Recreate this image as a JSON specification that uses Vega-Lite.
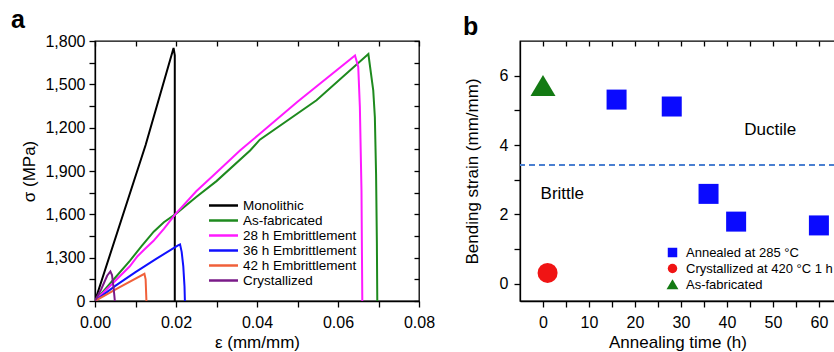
{
  "$schema": "https://vega.github.io/schema/vega-lite/v6.json",
  "background": "white",
  "padding": {"left": 10, "top": 7, "right": 0, "bottom": 0},
  "spacing": 26,
  "resolve": {"scale": {"color": "independent", "shape": "independent"}, "legend": {"color": "independent", "shape": "independent"}},
  "config": {
    "font": "Liberation Sans",
    "view": {"stroke": "#000", "strokeWidth": 1.3},
    "axis": {
      "grid": false, "domainColor": "#000", "domainWidth": 1.3, "tickColor": "#000", "tickWidth": 1.3,
      "labelFontSize": 16, "titleFontSize": 17, "titleFontWeight": "normal", "labelColor": "#000", "titleColor": "#000",
      "labelFont": "Liberation Sans", "titleFont": "Liberation Sans", "labelFlush": false, "labelOverlap": false
    },
    "legend": {"labelFont": "Liberation Sans", "labelFontSize": 13, "labelColor": "#000"},
    "title": {"font": "Liberation Sans", "color": "#000"}
  },
  "hconcat": [
    {
      "title": {"text": "a", "anchor": "start", "frame": "bounds", "fontSize": 25, "fontWeight": "bold", "offset": 7, "dx": -10, "dy": 7},
      "width": 324,
      "height": 260,
      "data": {"values": [
        {"series": "Monolithic", "i": 0, "strain": 0, "stress": 0},
        {"series": "Monolithic", "i": 1, "strain": 0.0125, "stress": 1080},
        {"series": "Monolithic", "i": 2, "strain": 0.0194, "stress": 1752},
        {"series": "Monolithic", "i": 3, "strain": 0.0197, "stress": 1700},
        {"series": "Monolithic", "i": 4, "strain": 0.0197, "stress": 0},
        {"series": "As-fabricated", "i": 0, "strain": 0, "stress": 0},
        {"series": "As-fabricated", "i": 1, "strain": 0.004, "stress": 130},
        {"series": "As-fabricated", "i": 2, "strain": 0.0086, "stress": 278},
        {"series": "As-fabricated", "i": 3, "strain": 0.0115, "stress": 380},
        {"series": "As-fabricated", "i": 4, "strain": 0.0145, "stress": 480},
        {"series": "As-fabricated", "i": 5, "strain": 0.017, "stress": 545},
        {"series": "As-fabricated", "i": 6, "strain": 0.0198, "stress": 600},
        {"series": "As-fabricated", "i": 7, "strain": 0.025, "stress": 720},
        {"series": "As-fabricated", "i": 8, "strain": 0.03, "stress": 830},
        {"series": "As-fabricated", "i": 9, "strain": 0.0383, "stress": 1042},
        {"series": "As-fabricated", "i": 10, "strain": 0.0407, "stress": 1117},
        {"series": "As-fabricated", "i": 11, "strain": 0.0547, "stress": 1390},
        {"series": "As-fabricated", "i": 12, "strain": 0.0675, "stress": 1710},
        {"series": "As-fabricated", "i": 13, "strain": 0.0687, "stress": 1459},
        {"series": "As-fabricated", "i": 14, "strain": 0.0691, "stress": 1274},
        {"series": "As-fabricated", "i": 15, "strain": 0.0694, "stress": 881},
        {"series": "As-fabricated", "i": 16, "strain": 0.0696, "stress": 400},
        {"series": "As-fabricated", "i": 17, "strain": 0.0697, "stress": 0},
        {"series": "28 h Embrittlement", "i": 0, "strain": 0, "stress": 0},
        {"series": "28 h Embrittlement", "i": 1, "strain": 0.0086, "stress": 240},
        {"series": "28 h Embrittlement", "i": 2, "strain": 0.0105, "stress": 310},
        {"series": "28 h Embrittlement", "i": 3, "strain": 0.0125, "stress": 365},
        {"series": "28 h Embrittlement", "i": 4, "strain": 0.0144, "stress": 415},
        {"series": "28 h Embrittlement", "i": 5, "strain": 0.017, "stress": 500},
        {"series": "28 h Embrittlement", "i": 6, "strain": 0.0198, "stress": 600},
        {"series": "28 h Embrittlement", "i": 7, "strain": 0.025, "stress": 760},
        {"series": "28 h Embrittlement", "i": 8, "strain": 0.03, "stress": 890},
        {"series": "28 h Embrittlement", "i": 9, "strain": 0.0358, "stress": 1042},
        {"series": "28 h Embrittlement", "i": 10, "strain": 0.0407, "stress": 1158},
        {"series": "28 h Embrittlement", "i": 11, "strain": 0.05, "stress": 1380},
        {"series": "28 h Embrittlement", "i": 12, "strain": 0.0642, "stress": 1700},
        {"series": "28 h Embrittlement", "i": 13, "strain": 0.065, "stress": 1621},
        {"series": "28 h Embrittlement", "i": 14, "strain": 0.0654, "stress": 1343},
        {"series": "28 h Embrittlement", "i": 15, "strain": 0.0658, "stress": 765},
        {"series": "28 h Embrittlement", "i": 16, "strain": 0.066, "stress": 0},
        {"series": "36 h Embrittlement", "i": 0, "strain": 0, "stress": 0},
        {"series": "36 h Embrittlement", "i": 1, "strain": 0.005, "stress": 105},
        {"series": "36 h Embrittlement", "i": 2, "strain": 0.01, "stress": 200},
        {"series": "36 h Embrittlement", "i": 3, "strain": 0.015, "stress": 290},
        {"series": "36 h Embrittlement", "i": 4, "strain": 0.0205, "stress": 385},
        {"series": "36 h Embrittlement", "i": 5, "strain": 0.021, "stress": 392},
        {"series": "36 h Embrittlement", "i": 6, "strain": 0.0214, "stress": 340},
        {"series": "36 h Embrittlement", "i": 7, "strain": 0.0218, "stress": 240},
        {"series": "36 h Embrittlement", "i": 8, "strain": 0.0221, "stress": 100},
        {"series": "36 h Embrittlement", "i": 9, "strain": 0.0222, "stress": 0},
        {"series": "42 h Embrittlement", "i": 0, "strain": 0, "stress": 0},
        {"series": "42 h Embrittlement", "i": 1, "strain": 0.006, "stress": 95},
        {"series": "42 h Embrittlement", "i": 2, "strain": 0.0122, "stress": 188},
        {"series": "42 h Embrittlement", "i": 3, "strain": 0.0125, "stress": 150},
        {"series": "42 h Embrittlement", "i": 4, "strain": 0.0127, "stress": 0},
        {"series": "Crystallized", "i": 0, "strain": 0, "stress": 0},
        {"series": "Crystallized", "i": 1, "strain": 0.0015, "stress": 80},
        {"series": "Crystallized", "i": 2, "strain": 0.003, "stress": 175},
        {"series": "Crystallized", "i": 3, "strain": 0.0038, "stress": 205},
        {"series": "Crystallized", "i": 4, "strain": 0.0042, "stress": 180},
        {"series": "Crystallized", "i": 5, "strain": 0.0046, "stress": 90},
        {"series": "Crystallized", "i": 6, "strain": 0.0049, "stress": 0}
      ]},
      "layer": [
        {
          "mark": {"type": "line", "strokeWidth": 2, "clip": true},
          "encoding": {
            "x": {"field": "strain", "type": "quantitative",
              "scale": {"domain": [0, 0.08], "nice": false, "zero": false},
              "axis": {"title": "ε (mm/mm)", "values": [0, 0.01, 0.02, 0.03, 0.04, 0.05, 0.06, 0.07, 0.08],
                "labelExpr": "round(datum.value*100) % 2 == 0 ? format(datum.value, '.2f') : ''",
                "tickSize": 6, "labelPadding": 7, "titlePadding": 4}},
            "y": {"field": "stress", "type": "quantitative",
              "scale": {"domain": [0, 1800], "nice": false, "zero": false},
              "axis": {"title": "σ (MPa)", "values": [0, 150, 300, 450, 600, 750, 900, 1050, 1200, 1350, 1500, 1650, 1800],
                "labelExpr": "datum.value == 0 ? '0' : (datum.value % 300 != 0 ? '' : (datum.value < 1000 ? '1,' + datum.value : format(datum.value, ',')))",
                "tickSize": 6, "labelPadding": 4, "titlePadding": 6}},
            "color": {"field": "series", "type": "nominal",
              "scale": {"domain": ["Monolithic", "As-fabricated", "28 h Embrittlement", "36 h Embrittlement", "42 h Embrittlement", "Crystallized"],
                "range": ["#000000", "#1e8a1e", "#ff1aff", "#1010ff", "#f0603a", "#7a1a88"]},
              "legend": {"title": null, "orient": "none", "legendX": 120, "legendY": 156, "symbolType": "M-2,0L2,0", "symbolSize": 210,
                "symbolStrokeWidth": 2.5, "labelOffset": 11, "rowPadding": 0, "padding": 0, "labelFontSize": 13.5}},
            "order": {"field": "i", "type": "quantitative"}
          }
        },
        {
          "mark": {"type": "point", "opacity": 0},
          "encoding": {
            "x": {"field": "strain", "type": "quantitative",
              "scale": {"domain": [0, 0.08], "nice": false, "zero": false},
              "axis": {"orient": "top", "labels": false, "title": null, "domain": false, "tickSize": -5,
                "values": [0, 0.01, 0.02, 0.03, 0.04, 0.05, 0.06, 0.07, 0.08]}},
            "y": {"field": "stress", "type": "quantitative",
              "scale": {"domain": [0, 1800], "nice": false, "zero": false},
              "axis": {"orient": "right", "labels": false, "title": null, "domain": false, "tickSize": -5,
                "values": [0, 150, 300, 450, 600, 750, 900, 1050, 1200, 1350, 1500, 1650, 1800]}}
          }
        }
      ],
      "resolve": {"axis": {"x": "independent", "y": "independent"}}
    },
    {
      "title": {"text": "b", "anchor": "start", "frame": "bounds", "fontSize": 25, "fontWeight": "bold", "offset": 7, "dx": 0, "dy": 7},
      "width": 315,
      "height": 260,
      "layer": [
        {
          "data": {"values": [{"threshold": 3.42}]},
          "mark": {"type": "rule", "color": "#4a7fd0", "strokeWidth": 2, "strokeDash": [6, 4]},
          "encoding": {
            "y": {"field": "threshold", "type": "quantitative", "scale": {"domain": [-0.5, 7], "nice": false, "zero": false}, "axis": null}
          }
        },
        {
          "data": {"values": [
            {"series": "Annealed at 285 °C", "t": 16, "s": 5.31},
            {"series": "Annealed at 285 °C", "t": 28, "s": 5.11},
            {"series": "Annealed at 285 °C", "t": 36, "s": 2.59},
            {"series": "Annealed at 285 °C", "t": 42, "s": 1.79},
            {"series": "Annealed at 285 °C", "t": 60, "s": 1.68},
            {"series": "Crystallized at 420 °C 1 h", "t": 1, "s": 0.31},
            {"series": "As-fabricated", "t": 0, "s": 5.7}
          ]},
          "mark": {"type": "point", "filled": true, "opacity": 1, "strokeWidth": 0, "size": 400},
          "encoding": {
            "x": {"field": "t", "type": "quantitative",
              "scale": {"domain": [-5, 63.5], "nice": false, "zero": false},
              "axis": {"title": "Annealing time (h)", "values": [0, 5, 10, 15, 20, 25, 30, 35, 40, 45, 50, 55, 60],
                "labelExpr": "datum.value % 10 == 0 ? datum.label : ''", "tickSize": 6, "labelPadding": 7, "titlePadding": 4}},
            "y": {"field": "s", "type": "quantitative",
              "scale": {"domain": [-0.5, 7], "nice": false, "zero": false},
              "axis": {"title": "Bending strain (mm/mm)", "values": [0, 1, 2, 3, 4, 5, 6],
                "labelExpr": "datum.value % 2 == 0 ? datum.label : ''", "tickSize": 6, "labelPadding": 6, "titlePadding": 18}},
            "color": {"field": "series", "type": "nominal",
              "scale": {"domain": ["Annealed at 285 °C", "Crystallized at 420 °C 1 h", "As-fabricated"], "range": ["#0a0aff", "#f01414", "#137a13"]},
              "legend": {"title": null, "orient": "none", "legendX": 146, "legendY": 205, "symbolSize": 90, "rowPadding": 2, "labelOffset": 7, "padding": 0}},
            "shape": {"field": "series", "type": "nominal",
              "scale": {"domain": ["Annealed at 285 °C", "Crystallized at 420 °C 1 h", "As-fabricated"], "range": ["square", "circle", "M0,-1.1L1.25,1L-1.25,1Z"]},
              "legend": {"title": null, "orient": "none", "legendX": 146, "legendY": 205, "symbolSize": 90, "rowPadding": 2, "labelOffset": 7, "padding": 0}}
          }
        },
        {
          "data": {"values": [
            {"label": "Ductile", "t": 49.4, "s": 4.43},
            {"label": "Brittle", "t": 4.2, "s": 2.6}
          ]},
          "mark": {"type": "text", "fontSize": 17, "align": "center", "baseline": "middle", "color": "#000"},
          "encoding": {
            "x": {"field": "t", "type": "quantitative", "scale": {"domain": [-5, 63.5], "nice": false, "zero": false}, "axis": null},
            "y": {"field": "s", "type": "quantitative", "scale": {"domain": [-0.5, 7], "nice": false, "zero": false}, "axis": null},
            "text": {"field": "label", "type": "nominal"}
          }
        },
        {
          "data": {"values": [{"t": 0, "s": 0}]},
          "mark": {"type": "point", "opacity": 0},
          "encoding": {
            "x": {"field": "t", "type": "quantitative", "scale": {"domain": [-5, 63.5], "nice": false, "zero": false},
              "axis": {"orient": "top", "labels": false, "title": null, "domain": false, "tickSize": -5,
                "values": [0, 5, 10, 15, 20, 25, 30, 35, 40, 45, 50, 55, 60]}},
            "y": {"field": "s", "type": "quantitative", "scale": {"domain": [-0.5, 7], "nice": false, "zero": false}, "axis": null}
          }
        }
      ],
      "resolve": {"axis": {"x": "independent", "y": "independent"}}
    }
  ]
}
